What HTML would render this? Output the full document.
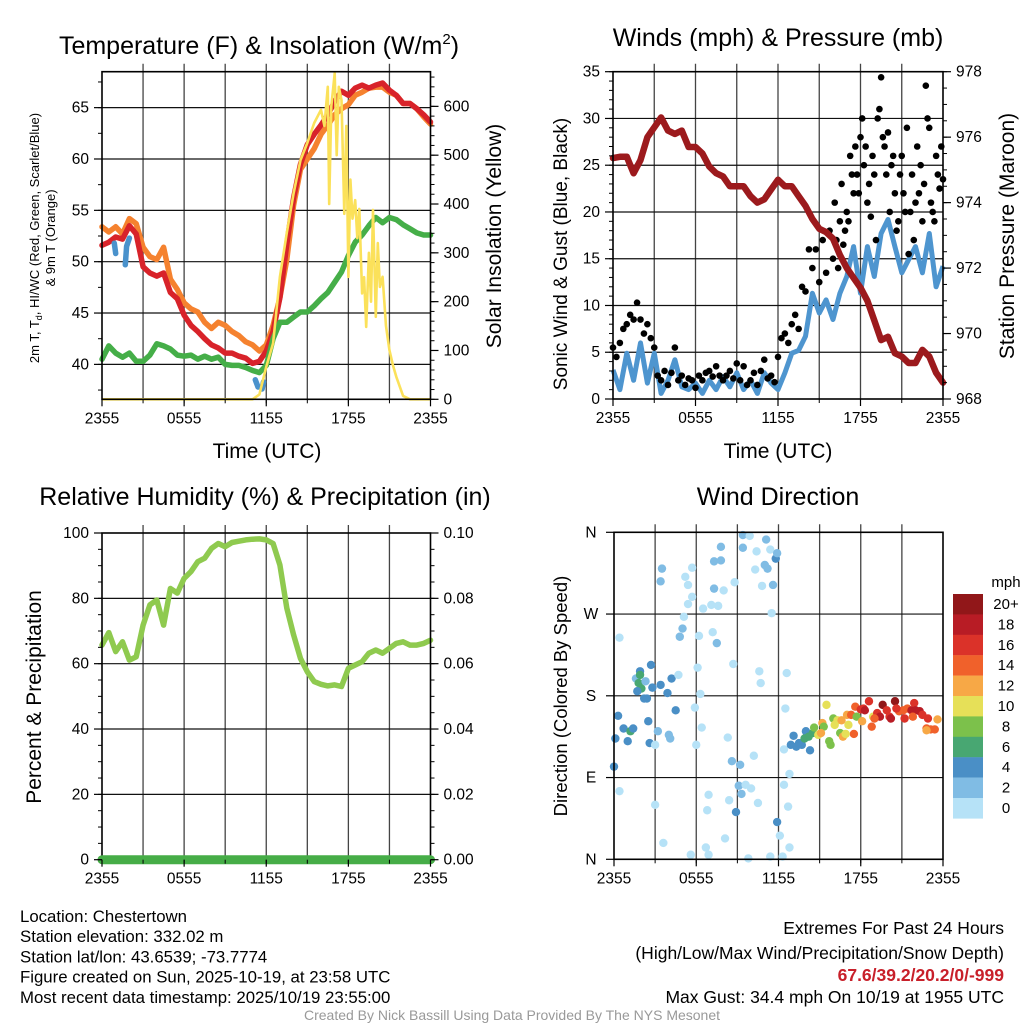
<!DOCTYPE html>
<html><head><meta charset="utf-8"><style>
html,body{margin:0;padding:0;background:#fff;}
svg{display:block;font-family:"Liberation Sans",sans-serif;}
</style></head><body>
<svg id="c" width="1024" height="1024" viewBox="0 0 1024 1024" xmlns="http://www.w3.org/2000/svg"></svg>
<script>
// ---------- DATA ----------
const tempHours=[0,0.5,1,1.5,2,2.5,3,3.5,4,4.5,5,5.5,6,6.5,7,7.5,8,8.5,9,9.5,10,10.5,11,11.5,12,12.5,13,13.5,14,14.5,15,15.5,16,16.5,17,17.5,18,18.5,19,19.5,20,20.5,21,21.5,22,22.5,23,23.5,24];
const tempRed=[51.6,51.9,52.4,52.2,53.5,52.7,49.5,48.9,48.6,48.9,47.0,46.4,44.8,43.8,43.2,42.5,41.9,41.6,41.1,41.1,40.8,40.6,40.1,40.3,41.3,43.2,46.5,51.7,56.2,59.5,61.4,62.4,63.3,64.3,65.6,66.6,66.2,66.9,67.2,66.9,67.2,67.4,66.7,66.2,65.4,65.4,64.9,64.3,63.6];
const temp9m=[53.4,52.9,53.4,52.7,54.2,53.7,51.4,50.5,50.2,51.4,48.3,47.3,46.0,45.4,45.1,44.1,43.5,44.1,43.8,43.2,42.8,42.2,41.9,41.3,41.9,43.8,46.5,50.2,55.5,59.0,60.0,61.0,62.4,63.3,64.3,64.9,65.3,66.2,66.5,66.9,67.0,67.0,66.5,66.2,65.4,65.4,64.9,64.1,63.4];
const dewpoint=[40.5,41.8,41.1,40.7,41.1,40.3,40.3,40.9,42.0,41.8,41.5,40.9,40.8,40.9,40.5,40.8,40.5,40.7,40.0,39.9,39.9,39.7,39.4,39.2,39.9,42.5,44.1,44.1,44.6,45.1,45.1,45.7,46.4,47.0,48.0,49.0,50.6,51.9,52.6,53.5,54.3,53.8,54.3,54.1,53.6,53.2,52.8,52.6,52.6];
const wcHours=[0.9,1.0,null,1.7,1.8,2.0,null,11.2,11.4,null,11.7,11.8];
const wcVals=[51.8,50.8,null,49.7,51.5,52.3,null,38.5,37.8,null,37.6,38.3];
const solHours=[0,11,11.5,12,12.5,13,13.5,14,14.5,15,15.5,16,16.25,16.5,16.6,16.75,17,17.15,17.3,17.5,17.7,17.85,18,18.15,18.3,18.5,18.65,18.8,19,19.15,19.3,19.5,19.65,19.8,20,20.15,20.3,20.5,20.75,21,21.25,21.5,22,22.5,24];
const solVals=[0,0,10,67,115,251,341,422,490,525,566,593,560,640,400,600,668,500,640,613,380,560,251,450,370,408,330,390,217,250,148,300,200,388,169,320,230,251,150,101,70,46,7,0,0];
const windHours=tempHours;
const windSpd=[3.1,1.0,4.9,2.0,6.0,1.7,4.9,0.6,2.0,4.2,1.3,1.0,1.7,0.6,2.0,1.0,2.4,1.3,2.8,1.0,2.0,0.6,2.8,1.7,1.0,2.8,4.9,5.2,6.7,11.3,9.2,10.6,8.5,11.3,13.1,16.3,11.3,16.3,13.1,17.7,19.2,16.3,13.5,14.9,16.3,13.5,17.7,12.0,14.2];
const pressure=[975.36,975.4,975.4,974.9,975.3,976.0,976.3,976.6,976.2,976.1,976.2,975.7,975.7,975.5,975.1,974.9,974.8,974.5,974.5,974.5,974.2,974.0,974.1,974.4,974.7,974.5,974.5,974.2,973.9,973.5,973.2,973.1,972.9,972.4,972.0,971.7,971.4,971.0,970.4,969.8,969.9,969.4,969.3,969.1,969.1,969.5,969.3,968.8,968.5];
const gustA=[5.5,4.5,6.0,7.5,8.0,9.0,8.5,10.3,8.5,7.0,8.0,6.5,5.5,2.5,2.0,3.0,1.5,2.8,5.5,2.0,2.5,1.5,2.2,2.0,1.2,2.5,2.0,2.8,3.0,2.4,3.5,2.5,2.0,2.5,3.0,2.2,3.8,2.0,3.5,1.5,2.0,2.8,1.5,3.0,4.2,2.2,2.5,1.8,4.5,6.5,7.0,6.0,8.0,9.0,7.5,12.0,11.5,16.0,14.0,16.0,12.5,17.0,13.5,18.0,15.0,17.0,19.0,16.5,20.0,26.0,22.0,24.0,28.0,25.0,21.0,19.5,24.0,30.0,34.4,27.0,28.5,25.0,22.0,19.0,26.0,20.0,15.5,24.0,21.0,22.0,19.0,33.5,29.0,20.0,26.0,22.5,23.5];
const gustBStart=16.125;
const gustB=[21,14,23,18,19,24,27,22,30,27,23,26,17,31,28,24,20,26,18,24,22,29,20,17,27,25,23,30,21,19,24,27];
const rhHours=tempHours;
const rh=[65.7,69.5,63.7,66.7,61.1,62.1,71.8,78,79.5,71.8,83,81.6,86.1,88.2,91.2,92.3,95.3,96.8,95.8,97.1,97.5,97.9,98.1,98.2,97.9,96.8,90.2,77,68.8,61.6,57.5,54.5,53.7,53.2,53.5,53,58.6,59.6,60.6,63.2,64.2,63.2,64.7,66.2,66.7,65.7,65.7,66.2,67.2];
const precip=[0,0,0,0,0,0,0,0,0,0,0,0,0,0,0,0,0,0,0,0,0,0,0,0,0,0,0,0,0,0,0,0,0,0,0,0,0,0,0,0,0,0,0,0,0,0,0,0,0];
const dirHour=[0.4,0.1,0.3,0.0,0.4,0.7,1.0,1.2,1.4,1.6,1.9,1.9,1.8,2.0,2.3,1.7,2.2,2.4,2.8,2.7,2.5,2.6,3.0,3.2,3.4,3.5,3.4,3.6,3.0,3.9,4.2,4.5,4.0,4.1,4.7,4.8,5.0,5.1,5.2,5.4,5.4,5.7,5.7,6.0,5.9,6.1,6.2,6.3,6.4,6.5,6.9,6.8,6.9,6.7,7.1,7.2,7.3,7.3,7.5,7.6,7.8,7.8,8.0,5.6,8.1,8.3,8.4,8.6,8.7,8.8,8.9,9.1,9.2,9.3,9.6,9.8,10.0,10.2,10.5,10.6,10.7,9.4,9.9,9.4,10.4,10.3,10.8,11.0,11.1,11.2,11.4,11.6,11.8,11.9,11.5,11.4,11.9,12.1,12.3,12.4,12.7,12.8,12.8,12.5,12.6,
12.4,13.1,12.9,13.3,13.5,13.7,14.0,14.3,13.9,14.2,14.5,14.6,14.9,15.2,15.3,15.5,15.7,15.8,16.0,16.3,16.5,16.6,16.7,17.0,17.1,17.3,17.5,17.6,17.7,18.0,18.2,18.3,18.6,18.8,18.9,19.2,19.4,19.6,19.9,20.1,20.2,20.5,20.8,21.1,21.2,21.4,21.7,21.9,22.0,22.3,22.5,22.8,22.9,23.1,23.4,23.6,22.8,21.8,20.6,19.0,18.1,16.1,16.9,15.1];
const dirDeg=[244,133,158,102,75,144,130,141,144,199,207,203,194,188,196,185,177,177,189,214,152,128,126,141,192,320,306,18,60,183,199,164,137,133,203,245,254,267,311,302,281,289,321,126,167,211,246,182,145,276,71,54,5,13,280,250,298,328,238,279,329,344,296,5,23,134,65,108,215,305,52,81,104,72,82,1,78,114,62,207,194,357,356,343,339,319,301,324,352,320,341,302,331,337,271,3,41,26,3,82,58,13,94,166,205,
121,136,126,124,128,126,141,120,133,135,139,145,137,150,146,170,130,126,155,153,139,153,135,159,148,159,138,168,157,165,166,164,174,146,157,161,157,170,164,157,155,174,163,164,155,166,164,172,164,163,159,144,155,143,143,154,142,157,166,155,152,148,138,139];
const dirSpd=[1,5,5,5,1,5,5,7,5,3,5,7,7,7,3,5,5,5,5,5,5,5,1,3,5,3,3,1,1,5,5,5,3,3,1,3,3,1,1,1,1,1,1,1,1,1,1,1,1,1,1,1,1,1,1,1,3,3,3,1,3,3,1,1,1,1,1,3,1,1,5,3,3,3,1,1,1,1,1,1,1,3,1,3,1,1,1,3,3,3,1,3,5,3,1,1,5,1,1,1,1,1,1,1,1,
1,5,5,5,5,5,5,5,7,7,7,9,11,13,9,11,9,9,9,11,9,13,13,13,11,15,15,15,9,17,17,19,17,15,11,17,19,21,17,17,19,21,15,15,17,15,19,17,19,19,17,15,17,15,15,13,13,15,17,15,13,11,11,13];
const cbLabels=["20+","18","16","14","12","10","8","6","4","2","0"];
const cbColors=["#911719","#b81c25","#db3229","#f0612b","#f7a846","#e6e058","#7cc14b","#48a772","#4a8fc6","#80bce4","#b6e2f7"];

// ---------- HELPERS ----------
const NS="http://www.w3.org/2000/svg";
const svg=document.getElementById('c');
function mk(tag,attrs,parent){const e=document.createElementNS(NS,tag);for(const k in attrs)e.setAttribute(k,attrs[k]);(parent||svg).appendChild(e);return e;}
function txt(s,x,y,size,anchor,parent,extra){const e=mk('text',Object.assign({x:x,y:y,'font-size':size,'text-anchor':anchor||'middle',fill:'#000'},extra||{}),parent);e.textContent=s;return e;}
function lin(a0,a1,p0,p1){return v=>p0+(v-a0)/(a1-a0)*(p1-p0);}
function pathFrom(xs,ys,fx,fy){let d='',pen=false;for(let i=0;i<xs.length;i++){if(xs[i]===null||ys[i]===null){pen=false;continue;}d+=(pen?'L':'M')+fx(xs[i]).toFixed(1)+','+fy(ys[i]).toFixed(1);pen=true;}return d;}
const xTicksH=[0,6,12,18,24];
const xTickLab=["2355","0555","1155","1755","2355"];

function frame(P,name){
  const g=mk('g',{});
  
  
  for(let h=3;h<24;h+=3){const x=P.fx(h);const l=mk('line',{x1:x,x2:x,y1:P.y0-8,y2:P.y1,stroke:'#444','stroke-width':1.3},g);}
  return g;
}
function box(P,g){const r=mk('rect',{x:P.x0,y:P.y0,width:P.x1-P.x0,height:P.y1-P.y0,fill:'none',stroke:'#000','stroke-width':1.6},g);}
function hgrid(P,vals,fy,g){for(const v of vals){const y=fy(v);const l=mk('line',{x1:P.x0,x2:P.x1,y1:y,y2:y,stroke:'#111','stroke-width':1.2},g);}}
function xaxis(P,g){
  xTicksH.forEach((h,i)=>{const x=P.fx(h);mk('line',{x1:x,x2:x,y1:P.y1,y2:P.y1+7,stroke:'#000','stroke-width':1.2},g);
    const t=txt(xTickLab[i],x,P.y1+24,15.5,'middle',g);});
  for(let h=0;h<=24;h+=3){const x=P.fx(h);mk('line',{x1:x,x2:x,y1:P.y1,y2:P.y1+4,stroke:'#000','stroke-width':1},g);}
}
function yaxisL(P,vals,labels,fy,g,minorStep,lo,hi){
  vals.forEach((v,i)=>{const y=fy(v);mk('line',{x1:P.x0-8,x2:P.x0,y1:y,y2:y,stroke:'#000','stroke-width':1.2},g);
    const t=txt(labels[i],P.x0-13,y+5,15.5,'end',g);});
  if(minorStep){for(let v=lo;v<=hi+1e-9;v+=minorStep){const y=fy(v);if(y<P.y0-0.5||y>P.y1+0.5)continue;mk('line',{x1:P.x0-4,x2:P.x0,y1:y,y2:y,stroke:'#000','stroke-width':1},g);}}
}
function yaxisR(P,vals,labels,fy,g,minorStep,lo,hi){
  vals.forEach((v,i)=>{const y=fy(v);mk('line',{x1:P.x1,x2:P.x1+8,y1:y,y2:y,stroke:'#000','stroke-width':1.2},g);
    const t=txt(labels[i],P.x1+13,y+5,15.5,'start',g);});
  if(minorStep){for(let v=lo;v<=hi+1e-9;v+=minorStep){const y=fy(v);if(y<P.y0-0.5||y>P.y1+0.5)continue;mk('line',{x1:P.x1,x2:P.x1+4,y1:y,y2:y,stroke:'#000','stroke-width':1},g);}}
}
function rotText(s,x,y,size,g,name){const t=txt(s,x,y,size,'middle',g,{transform:'rotate(-90 '+x+' '+y+')'});return t;}

// ---------- PANEL 1 ----------
{
  const P={x0:102,x1:430.5,y0:71.7,y1:399.3};P.fx=lin(0,24,P.x0,P.x1);
  const fy=lin(36.6,68.5,P.y1,P.y0),fr=lin(0,671,P.y1,P.y0);
  const g=frame(P,'temperature-panel');
  hgrid(P,[40,45,50,55,60,65],fy,g);
  const lines=[[tempHours,temp9m,'#f5822f',5.5,'temp-9m-line'],[tempHours,tempRed,'#d8232a',5.5,'temp-2m-line'],[tempHours,dewpoint,'#45ae48',5.5,'dewpoint-line'],[wcHours,wcVals,'#4a92cc',5.5,'windchill-line']];
  lines.forEach(L=>{const p=mk('path',{d:pathFrom(L[0],L[1],P.fx,fy),fill:'none',stroke:L[2],'stroke-width':L[3],'stroke-linejoin':'round','stroke-linecap':'round'},g);});
  const sp=mk('path',{d:pathFrom(solHours,solVals,P.fx,fr),fill:'none',stroke:'#fbe15a','stroke-width':2.6,'stroke-linejoin':'round'},g);
  
  box(P,g);xaxis(P,g);
  yaxisL(P,[40,45,50,55,60,65],["40","45","50","55","60","65"],fy,g,2.5,37.5,67.5);
  yaxisR(P,[0,100,200,300,400,500,600],["0","100","200","300","400","500","600"],fr,g,20,0,660);
  const t=txt('Temperature (F) & Insolation (W/m',259,54,25,'middle',g);
  const ts=mk('tspan',{dy:-10,'font-size':15},t);ts.textContent='2';const ts2=mk('tspan',{dy:10},t);ts2.textContent=')';
  const xl=txt('Time (UTC)',267,458,21,'middle',g);
  const yl=txt('',39,238,13,'middle',g,{transform:'rotate(-90 39 238)'});
  yl.appendChild(document.createTextNode('2m T, T'));const sub=mk('tspan',{dy:3,'font-size':9},yl);sub.textContent='d';const rest=mk('tspan',{dy:-3},yl);rest.textContent=', HI/WC (Red, Green, Scarlet/Blue)';
  rotText('& 9m T (Orange)',55,238,13,g,'y-axis-title-2');
  rotText('Solar Insolation (Yellow)',501,236,21,g,'right-axis-title');
}
// ---------- PANEL 2 ----------
{
  const P={x0:613,x1:943,y0:71.7,y1:399};P.fx=lin(0,24,P.x0,P.x1);
  const fy=lin(0,35,P.y1,P.y0),fp=lin(968,978,P.y1,P.y0);
  const g=frame(P,'winds-panel');
  hgrid(P,[5,10,15,20,25,30],fy,g);
  const w=mk('path',{d:pathFrom(windHours,windSpd,P.fx,fy),fill:'none',stroke:'#4e95cf','stroke-width':5,'stroke-linejoin':'round'},g);
  
  gustA.forEach((v,i)=>{const c=mk('circle',{cx:P.fx(i*0.25),cy:fy(v),r:3.3,fill:'#000'},g);});
  gustB.forEach((v,i)=>{const c=mk('circle',{cx:P.fx(gustBStart+i*0.25),cy:fy(v),r:3.3,fill:'#000'},g);});
  const p=mk('path',{d:pathFrom(windHours,pressure,P.fx,fp),fill:'none',stroke:'#9c1a1d','stroke-width':6.5,'stroke-linejoin':'round','stroke-linecap':'round'},g);
  
  box(P,g);xaxis(P,g);
  yaxisL(P,[0,5,10,15,20,25,30,35],["0","5","10","15","20","25","30","35"],fy,g,1,0,35);
  yaxisR(P,[968,970,972,974,976,978],["968","970","972","974","976","978"],fp,g,0.5,968,978);
  const t=txt('Winds (mph) & Pressure (mb)',778,46,25,'middle',g);
  const xl=txt('Time (UTC)',778,458,21,'middle',g);
  rotText('Sonic Wind & Gust (Blue, Black)',567,254,19,g,'y-axis-title');
  rotText('Station Pressure (Maroon)',1014,236,21,g,'right-axis-title');
}
// ---------- PANEL 3 ----------
{
  const P={x0:102,x1:430.5,y0:533,y1:859.7};P.fx=lin(0,24,P.x0,P.x1);
  const fy=lin(0,100,P.y1,P.y0),fpr=lin(0,0.1,P.y1,P.y0);
  const g=frame(P,'humidity-panel');
  hgrid(P,[20,40,60,80],fy,g);
  const r=mk('path',{d:pathFrom(rhHours,rh,P.fx,fy),fill:'none',stroke:'#8fca4f','stroke-width':5.5,'stroke-linejoin':'round','stroke-linecap':'round'},g);
  
  box(P,g);
  const pp=mk('path',{d:pathFrom(rhHours,precip,P.fx,fpr),fill:'none',stroke:'#46ad47','stroke-width':9,'stroke-linecap':'round'},g);
  
  xaxis(P,g);
  yaxisL(P,[0,20,40,60,80,100],["0","20","40","60","80","100"],fy,g,5,0,100);
  yaxisR(P,[0,0.02,0.04,0.06,0.08,0.1],["0.00","0.02","0.04","0.06","0.08","0.10"],fpr,g,0.005,0,0.1);
  const t=txt('Relative Humidity (%) & Precipitation (in)',265,505,25,'middle',g);
  rotText('Percent & Precipitation',41,697,21,g,'y-axis-title');
}
// ---------- PANEL 4 ----------
{
  const P={x0:614,x1:943,y0:532.3,y1:859.3};P.fx=lin(0,24,P.x0,P.x1);
  const fy=lin(0,360,P.y1,P.y0);
  const g=frame(P,'wind-direction-panel');
  hgrid(P,[90,180,270],fy,g);
  function colorFor(s){let idx=Math.min(10,Math.floor(s/2));return cbColors[10-idx];}
  dirHour.forEach((h,i)=>{const c=mk('circle',{cx:P.fx(h),cy:fy(dirDeg[i]),r:4.2,fill:colorFor(dirSpd[i])},g);});
  box(P,g);xaxis(P,g);
  const dl=["N","E","S","W","N"];
  [0,90,180,270,360].forEach((v,i)=>{const y=fy(v);mk('line',{x1:P.x0-8,x2:P.x0,y1:y,y2:y,stroke:'#000','stroke-width':1.2},g);const t=txt(dl[i],591,y+5,15.5,'middle',g);});
  const t=txt('Wind Direction',778,505,25,'middle',g);
  rotText('Direction (Colored By Speed)',567,696,18.5,g,'y-axis-title');
  const cb=mk('g',{},g);
  cbColors.forEach((c,i)=>{const r=mk('rect',{x:953,y:594+i*20.4,width:30,height:20.6,fill:c},cb);
    const l=txt(cbLabels[i],1006,609+i*20.4,15,'middle',cb);});
  const u=txt('mph',1006,587,15,'middle',cb);
}
// ---------- FOOTER ----------
{
  const g=mk('g',{});
  const L=["Location: Chestertown","Station elevation: 332.02 m","Station lat/lon: 43.6539; -73.7774","Figure created on Sun, 2025-10-19, at 23:58 UTC","Most recent data timestamp: 2025/10/19 23:55:00"];
  L.forEach((s,i)=>{const t=txt(s,20,922+i*20.2,16.8,'start',g);});
  const R=[["Extremes For Past 24 Hours",934,'#000','normal'],["(High/Low/Max Wind/Precipitation/Snow Depth)",959,'#000','normal'],["67.6/39.2/20.2/0/-999",981,'#c8202a','bold'],["Max Gust: 34.4 mph On 10/19 at 1955 UTC",1003,'#000','normal']];
  R.forEach(r=>{const t=txt(r[0],1004,r[1],17.5,'end',g,{fill:r[2],'font-weight':r[3]});});
  const c=txt('Created By Nick Bassill Using Data Provided By The NYS Mesonet',512,1020,14,'middle',g,{fill:'#999'});
}
</script>
</body></html>
